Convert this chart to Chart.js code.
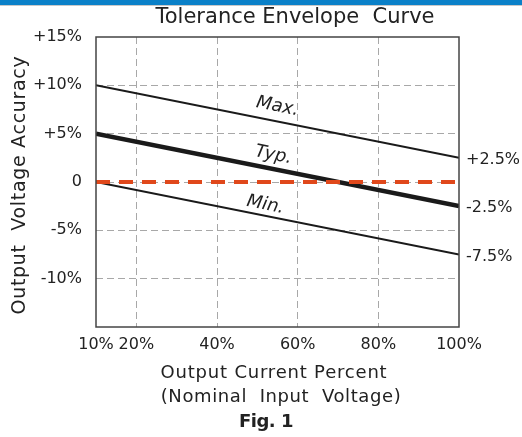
<!DOCTYPE html>
<html>
<head>
<meta charset="utf-8">
<script src="https://cdn.jsdelivr.net/npm/chart.js@4.4.1/dist/chart.umd.min.js"></script>
<style>
  html, body { margin: 0; padding: 0; background: #fff; }
  canvas { display: block; }
</style>
</head>
<body>
<canvas id="chart" width="522" height="437"></canvas>
<script>
// ── Datos de la curva ──
const xPoints    = [10, 100];
const maxVals    = [10, 2.5];
const typVals    = [5, -2.5];
const minVals    = [0, -7.5];
const refVals    = [0, 0];
const xTicks     = [10, 20, 40, 60, 80, 100];
const xTickLbls  = ['10%', '20%', '40%', '60%', '80%', '100%'];
const yTicks     = [15, 10, 5, 0, -5, -10, -15];
const yTickLbls  = ['+15%', '+10%', '+5%', '0', '-5%', '-10%', ''];
const endLabels  = ['+2.5%', '-2.5%', '-7.5%'];
const lineNames  = ['Max.', 'Typ.', 'Min.'];

const FONT = '"DejaVu Sans", sans-serif';
const toPts = vals => xPoints.map((x, i) => ({ x, y: vals[i] }));

// ── Marco, títulos y etiquetas ──
const decor = {
  id: 'decor',
  beforeDraw(chart) {
    const c = chart.ctx;
    c.save();
    c.fillStyle = '#0a80c8';
    c.fillRect(0, 0, chart.width, 5);
    c.fillStyle = '#c8c8c8';
    c.fillRect(0, 5, chart.width, 1);
    c.restore();
  },
  afterDatasetsDraw(chart) {
    const c = chart.ctx;
    const a = chart.chartArea;
    const xs = chart.scales.x, ys = chart.scales.y;
    c.save();
    // marco
    c.strokeStyle = '#444';
    c.lineWidth = 1.5;
    c.strokeRect(a.left, a.top, a.right - a.left, a.bottom - a.top);

    c.fillStyle = '#222';
    c.textAlign = 'center';
    c.textBaseline = 'middle';
    c.font = '21px ' + FONT;
    c.letterSpacing = '0px';
    c.fillText('Tolerance Envelope  Curve', 295, 18);

    c.font = '18px ' + FONT;
    c.letterSpacing = '0.8px';
    c.fillText('Output Current Percent', 274, 373);
    c.letterSpacing = '0.6px';
    c.fillText('(Nominal  Input  Voltage)', 281, 397);
    c.letterSpacing = '-0.5px';
    c.font = 'bold 18px ' + FONT;
    c.fillText('Fig. 1', 266, 422);
    c.letterSpacing = '0px';

    // eje Y
    c.save();
    c.translate(20, 185);
    c.rotate(-Math.PI / 2);
    c.font = '19px ' + FONT;
    c.letterSpacing = '0.7px';
    c.fillText('Output  Voltage Accuracy', 0, 0);
    c.restore();
    c.letterSpacing = '0px';

    // valores finales a la derecha
    c.textAlign = 'left';
    c.font = '16px ' + FONT;
    [maxVals, typVals, minVals].forEach((vals, i) => {
      const y = ys.getPixelForValue(vals[vals.length - 1]);
      c.fillText(endLabels[i], a.right + 7, y + 2);
    });

    // nombres sobre las líneas
    const ang = Math.atan2(ys.getPixelForValue(maxVals[1]) - ys.getPixelForValue(maxVals[0]),
                           xs.getPixelForValue(xPoints[1]) - xs.getPixelForValue(xPoints[0]));
    c.font = 'italic 18px ' + FONT;
    c.textAlign = 'center';
    [[maxVals, 55, 15], [typVals, 54, 14], [minVals, 52, 11]].forEach(([vals, xv, off], i) => {
      const t = (xv - xPoints[0]) / (xPoints[1] - xPoints[0]);
      const v = vals[0] + t * (vals[1] - vals[0]);
      c.save();
      c.translate(xs.getPixelForValue(xv), ys.getPixelForValue(v) - off);
      c.rotate(ang);
      c.fillText(lineNames[i], 0, 0);
      c.restore();
    });
    c.restore();
  }
};

new Chart(document.getElementById('chart'), {
  type: 'scatter',
  data: {
    datasets: [
      { data: toPts(refVals), borderColor: '#e0481b', borderWidth: 4, borderDash: [14, 9] },
      { data: toPts(maxVals), borderColor: '#1a1a1a', borderWidth: 2 },
      { data: toPts(minVals), borderColor: '#1a1a1a', borderWidth: 2 },
      { data: toPts(typVals), borderColor: '#1a1a1a', borderWidth: 4.5 }
    ].map(d => ({ ...d, showLine: true, pointRadius: 0, fill: false }))
  },
  options: {
    responsive: false,
    animation: false,
    layout: { padding: { left: 0, top: 37, right: 63, bottom: 0 } },
    plugins: { legend: { display: false }, tooltip: { enabled: false } },
    scales: {
      x: {
        type: 'linear', min: 10, max: 100,
        afterBuildTicks: s => { s.ticks = xTicks.map(v => ({ value: v })); },
        afterFit: s => { s.height = 110; },
        ticks: {
          color: '#222', font: { family: FONT, size: 16 }, padding: 8, maxRotation: 0,
          callback: v => xTickLbls[xTicks.indexOf(v)]
        },
        grid: {
          drawTicks: false, lineWidth: 1,
          color: ctx => (ctx.tick && (ctx.tick.value === 10 || ctx.tick.value === 100)) ? 'rgba(0,0,0,0)' : '#a8a8a8'
        },
        border: { display: false, dash: [7, 4] }
      },
      y: {
        type: 'linear', min: -15, max: 15,
        afterBuildTicks: s => { s.ticks = yTicks.map(v => ({ value: v })); },
        afterFit: s => { s.width = 96; },
        ticks: {
          color: '#222', font: { family: FONT, size: 16 }, padding: 14,
          callback: v => yTickLbls[yTicks.indexOf(v)]
        },
        grid: {
          drawTicks: false, lineWidth: 1,
          color: ctx => (ctx.tick && Math.abs(ctx.tick.value) === 15) ? 'rgba(0,0,0,0)' : '#a8a8a8'
        },
        border: { display: false, dash: [7, 4] }
      }
    }
  },
  plugins: [decor]
});
</script>
</body>
</html>
